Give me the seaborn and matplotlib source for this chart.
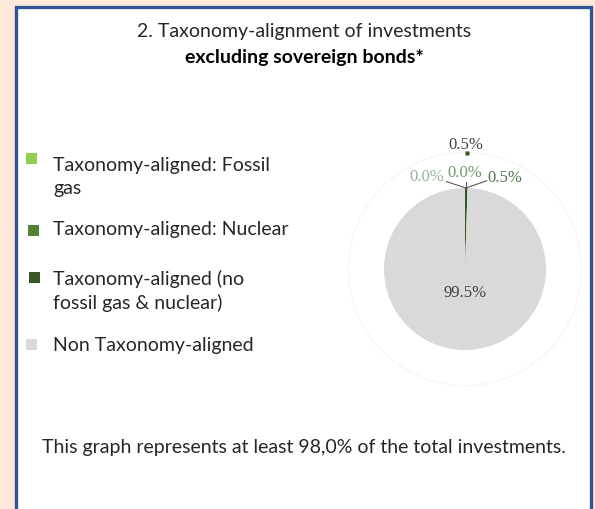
import matplotlib
matplotlib.use("Agg")
import matplotlib.pyplot as plt
import seaborn as sns
from matplotlib.patches import Rectangle, Circle

sns.set_style("white")
plt.rcParams['font.family'] = ['Lato', 'DejaVu Sans']

# ---- data ----
categories = ["Taxonomy-aligned: Fossil\ngas",
              "Taxonomy-aligned: Nuclear",
              "Taxonomy-aligned (no\nfossil gas & nuclear)",
              "Non Taxonomy-aligned"]
values = [0.0, 0.0, 0.5, 99.5]
colors = ["#92D050", "#548235", "#375623", "#D9D9D9"]
label_colors = ["#95B595", "#6A9A6A", "#487848", "#404040"]
title_line1 = "2. Taxonomy-alignment of investments"
title_line2 = "excluding sovereign bonds*"
footer = "This graph represents at least 98,0% of the total investments."

W, H = 595, 509
fig = plt.figure(figsize=(W / 100, H / 100), dpi=100, facecolor="#FDE9D9")

# framed white panel
fig.patches.append(Rectangle((15.5 / W, -0.05), (590.5 - 15.5) / W, 1.05 - 6.5 / H,
                             transform=fig.transFigure, facecolor="white",
                             edgecolor="#2F5597", linewidth=2.4, zorder=-5))

def fx(px):
    return px / W

def fy(py):
    return 1 - py / H

FS = 14
# titles
fig.text(fx(304), fy(32), title_line1, ha="center", va="center", fontsize=FS, color="#262626")
fig.text(fx(304), fy(57), title_line2, ha="center", va="center", fontsize=FS,
         fontweight="bold", color="black")
fig.text(fx(304), fy(447), footer, ha="center", va="center", fontsize=FS, color="#262626")

# legend
sq_y = [158, 230, 277, 344]
sq_x = [31, 33, 34, 31]
txt_y = [177, 230, 291, 345]
for i, cat in enumerate(categories):
    fig.patches.append(Rectangle((fx(sq_x[i] - 5.5), fy(sq_y[i] + 5.5)), 11 / W, 11 / H,
                                 transform=fig.transFigure, facecolor=colors[i],
                                 edgecolor="none", zorder=2))
    fig.text(fx(53), fy(txt_y[i]), cat, ha="left", va="center", fontsize=FS,
             color="#262626", linespacing=1.38)

# pie axes: center (465,269) px, radius 81 px
cx, cy, R = 465, 269, 81
span = 1.5
size = 2 * span * R
ax = fig.add_axes([fx(cx - size / 2), fy(cy + size / 2), size / W, size / H])
wedges, _ = ax.pie(values, colors=colors, startangle=90, counterclock=False, radius=1,
                   wedgeprops=dict(edgecolor="none", linewidth=0))
ax.add_patch(Circle((0, 0), 1.44, facecolor="none", edgecolor="#F6F6F6", linewidth=1,
                    zorder=0))
ax.set_xlim(-span, span)
ax.set_ylim(-span, span)
ax.set_aspect("equal")
ax.axis("off")

labels = [f"{v:.1f}%" for v in values]
serif = dict(family=["Liberation Serif", "DejaVu Serif"], fontsize=12)

# leader lines from the top of the pie
lc = "#595959"
ax.plot([0.01, -0.23], [1.0, 1.08], color=lc, lw=0.8)
ax.plot([0.01, 0.01], [1.0, 1.07], color=lc, lw=0.8)
ax.plot([0.01, 0.27], [1.0, 1.09], color=lc, lw=0.8)

ax.text(-0.47, 1.136, labels[0], ha="center", va="center", color=label_colors[0], **serif)
ax.text(0.0, 1.185, labels[1], ha="center", va="center", color=label_colors[1], **serif)
ax.text(0.49, 1.12, labels[2], ha="center", va="center", color=label_colors[2], **serif)
ax.text(0.01, 1.53, labels[2], ha="center", va="center", color="#404040", **serif)
ax.plot([0.02], [1.43], marker="s", ms=2.2, color=colors[2], mec="none")
ax.text(0.0, -0.30, labels[3], ha="center", va="center", color="#404040", **serif)

fig.savefig("out.png", dpi=100, facecolor=fig.get_facecolor())
